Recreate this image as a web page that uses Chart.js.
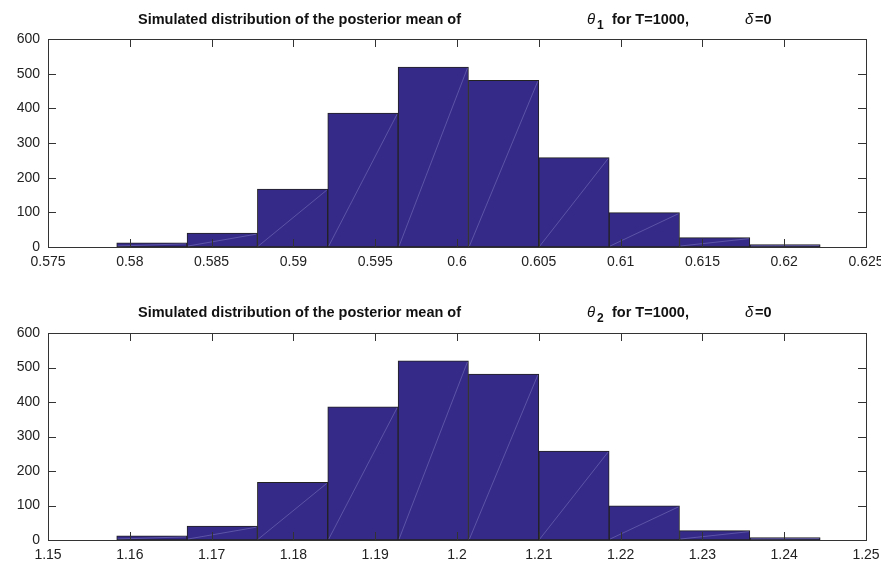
<!DOCTYPE html>
<html lang="en">
<head>
  <meta charset="UTF-8">
  <title>Posterior mean histograms</title>
  <script src="https://cdn.jsdelivr.net/npm/chart.js"></script>
  <style>
    body {
      margin: 0;
      background: #fff;
    }
    canvas {
      display: block;
    }
  </style>
</head>
<body>
  <canvas id="top" width="881" height="284"></canvas>
  <canvas id="bottom" width="881" height="284"></canvas>

  <script>
    // bin edges and counts
    const edges1 = [0.5792, 0.5835, 0.5878, 0.5921, 0.5964, 0.6007, 0.6050, 0.6093, 0.6136, 0.6179, 0.6222];
    const counts1 = [12, 40, 167, 386, 519, 481, 258, 99, 27, 7];
    const xTicks1 = [0.575, 0.58, 0.585, 0.59, 0.595, 0.6, 0.605, 0.61, 0.615, 0.62, 0.625];

    const edges2 = [1.1584, 1.1670, 1.1756, 1.1842, 1.1928, 1.2014, 1.2100, 1.2186, 1.2272, 1.2358, 1.2444];
    const counts2 = [12, 40, 167, 386, 519, 481, 258, 99, 27, 7];
    const xTicks2 = [1.15, 1.16, 1.17, 1.18, 1.19, 1.2, 1.21, 1.22, 1.23, 1.24, 1.25];

    const yTicks = [0, 100, 200, 300, 400, 500, 600];

    const FONT = "'Liberation Sans', Arial, sans-serif";
    const BAR = 'rgb(53,42,135)';

    // MATLAB-style box with inward ticks on all four sides
    const boxPlugin = {
      id: 'box',
      afterDraw(chart) {
        const { ctx, chartArea: a, scales } = chart;
        ctx.save();
        ctx.strokeStyle = '#333';
        ctx.lineWidth = 1;
        ctx.strokeRect(a.left + 0.5, a.top + 0.5, a.right - a.left, a.bottom - a.top);
        ctx.beginPath();
        scales.x.ticks.forEach(t => {
          const px = Math.round(scales.x.getPixelForValue(t.value)) + 0.5;
          ctx.moveTo(px, a.bottom); ctx.lineTo(px, a.bottom - 8);
          ctx.moveTo(px, a.top); ctx.lineTo(px, a.top + 8);
        });
        scales.y.ticks.forEach(t => {
          const py = Math.round(scales.y.getPixelForValue(t.value)) + 0.5;
          ctx.moveTo(a.left, py); ctx.lineTo(a.left + 8, py);
          ctx.moveTo(a.right, py); ctx.lineTo(a.right - 8, py);
        });
        ctx.stroke();
        ctx.restore();
      }
    };

    // faint diagonal seams visible across each bar
    const seamPlugin = {
      id: 'seam',
      afterDatasetsDraw(chart) {
        const { ctx } = chart;
        ctx.save();
        ctx.strokeStyle = 'rgba(200,200,255,0.45)';
        ctx.lineWidth = 0.6;
        chart.getDatasetMeta(0).data.forEach(b => {
          const w = b.width / 2;
          ctx.beginPath();
          ctx.moveTo(b.x - w + 1, b.base - 1);
          ctx.lineTo(b.x + w - 1, b.y + 1);
          ctx.stroke();
        });
        ctx.restore();
      }
    };

    function titlePlugin(sub, y) {
      return {
        id: 'ttl',
        afterDraw(chart) {
          const ctx = chart.ctx;
          ctx.save();
          ctx.fillStyle = '#111';
          ctx.textBaseline = 'middle';
          ctx.font = 'bold 14.5px ' + FONT;
          ctx.fillText('Simulated distribution of the posterior mean of', 138, y);
          ctx.fillText('for T=1000,', 612, y);
          ctx.fillText('=0', 755, y);
          ctx.font = 'italic 15px ' + FONT;
          ctx.fillText('\u03b8', 587, y);
          ctx.fillText('\u03b4', 745, y);
          ctx.font = 'bold 12px ' + FONT;
          ctx.fillText(sub, 597, y + 6);
          ctx.restore();
        }
      };
    }

    function makeChart(id, edges, counts, xTicks, sub, padTop, xAxisH, titleY, decimals) {
      const points = counts.map((c, i) => ({ x: (edges[i] + edges[i + 1]) / 2, y: c }));
      return new Chart(document.getElementById(id), {
        type: 'bar',
        data: {
          datasets: [{
            data: points,
            backgroundColor: BAR,
            borderColor: '#222',
            borderWidth: 1,
            borderSkipped: false,
            barPercentage: 1,
            categoryPercentage: 1
          }]
        },
        options: {
          responsive: false,
          animation: false,
          layout: { padding: { top: padTop, right: 15, left: 0, bottom: 0 } },
          plugins: { legend: { display: false }, tooltip: { enabled: false } },
          scales: {
            x: {
              type: 'linear',
              offset: false,
              min: xTicks[0],
              max: xTicks[xTicks.length - 1],
              afterBuildTicks: s => { s.ticks = xTicks.map(v => ({ value: v })); },
              afterFit: s => { s.height = xAxisH; s.paddingLeft = 0; s.paddingRight = 0; },
              grid: { display: false, drawTicks: false, offset: false },
              border: { display: false },
              ticks: {
                autoSkip: false,
                maxRotation: 0,
                padding: 7,
                color: '#222',
                font: { family: FONT, size: 14 },
                callback: v => String(+v.toFixed(decimals))
              }
            },
            y: {
              min: 0,
              max: 600,
              afterBuildTicks: s => { s.ticks = yTicks.map(v => ({ value: v })); },
              afterFit: s => { s.width = 48; s.paddingTop = 0; s.paddingBottom = 0; },
              grid: { display: false, drawTicks: false },
              border: { display: false },
              ticks: {
                padding: 8,
                color: '#222',
                font: { family: FONT, size: 14 }
              }
            }
          }
        },
        plugins: [seamPlugin, boxPlugin, titlePlugin(sub, titleY)]
      });
    }

    makeChart('top', edges1, counts1, xTicks1, '1', 39, 37, 20, 3);
    makeChart('bottom', edges2, counts2, xTicks2, '2', 49, 28, 29, 2);
  </script>
</body>
</html>
